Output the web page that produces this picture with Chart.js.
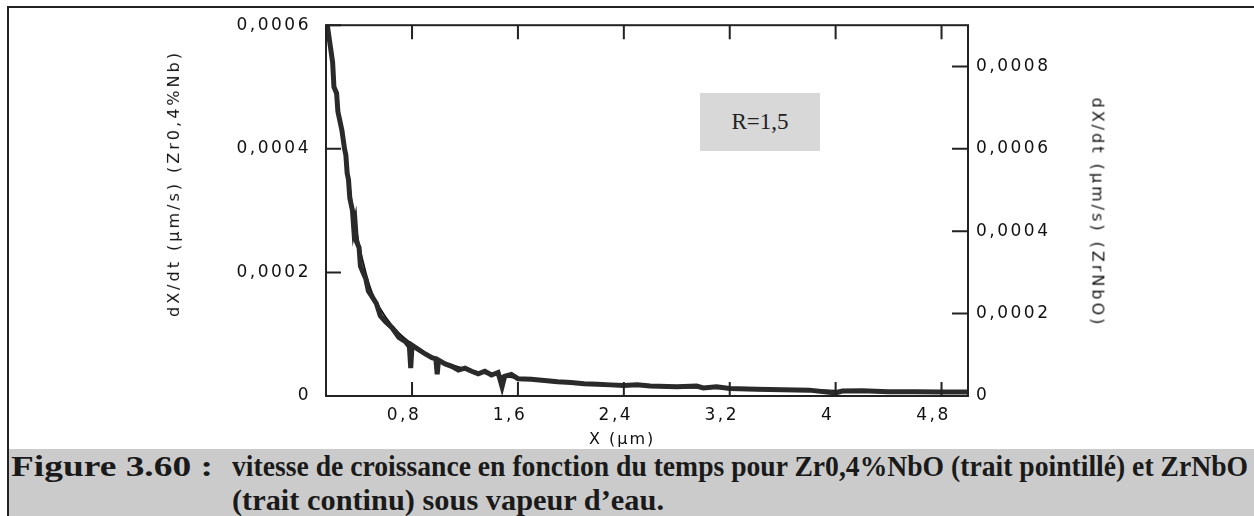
<!DOCTYPE html>
<html>
<head>
<meta charset="utf-8">
<script src="https://cdn.jsdelivr.net/npm/chart.js@4.4.1/dist/chart.umd.min.js"></script>
<style>
  body { margin: 0; background: #fff; width: 1254px; height: 516px; overflow: hidden; position: relative; }
  #frame { position: absolute; left: 7px; top: 6px; width: 1260px; height: 520px; border: 2px solid #222; box-sizing: border-box; }
  #cv { position: absolute; left: 0; top: 0; }
  .ttl { position: absolute; font-family: "DejaVu Sans", sans-serif; font-size: 16px; letter-spacing: 3px; color: #111; white-space: nowrap; transform-origin: center center; }
  #rbox { position: absolute; left: 700px; top: 93px; width: 120px; height: 58px; background: #d8d8d8; font-family: "Liberation Serif", serif; font-size: 23px; color: #222; text-align: center; line-height: 58px; }
  #cap { position: absolute; left: 9px; top: 449px; width: 1245px; height: 67px; background: #cbcbcb; }
  .cl { position: absolute; font-family: "Liberation Serif", serif; font-weight: bold; font-size: 30px; line-height: 32px; color: #1a1a1a; white-space: nowrap; transform-origin: left center; }
</style>
</head>
<body>
<div id="frame"></div>
<canvas id="cv" width="1254" height="450"></canvas>
<div class="ttl" id="tl">dX/dt (µm/s) (Zr0,4%Nb)</div>
<div class="ttl" id="tr">dX/dt (µm/s) (ZrNbO)</div>
<div class="ttl" id="tx" style="letter-spacing:2px">X (µm)</div>
<div id="rbox">R=1,5</div>
<div id="cap">
  <div class="cl" id="c0" style="left:2px; top:1px;">Figure 3.60 :</div>
  <div class="cl" id="c1" style="left:223px; top:1px;">vitesse de croissance en fonction du temps pour Zr0,4%NbO (trait pointillé) et ZrNbO</div>
  <div class="cl" id="c2" style="left:223px; top:35px;">(trait continu) sous vapeur d’eau.</div>
</div>
<script>
// Zr0,4%NbO (trait pointillé), left axis
const dotX = [0.16, 0.18, 0.20, 0.21, 0.23, 0.24, 0.26, 0.27, 0.29, 0.30, 0.31, 0.32, 0.33, 0.35, 0.36, 0.37, 0.38, 0.40, 0.41, 0.43,
  0.45, 0.47, 0.50, 0.53, 0.56, 0.60, 0.65, 0.70, 0.75, 0.78, 0.79, 0.80, 0.85, 0.90, 0.95, 0.98, 0.99, 1.00, 1.05, 1.10,
  1.15, 1.20, 1.25, 1.30, 1.35, 1.40, 1.45, 1.48, 1.50, 1.55, 1.60, 1.70, 1.80, 1.90, 2.00, 2.10, 2.20, 2.30, 2.40, 2.50,
  2.60, 2.80, 2.95, 3.00, 3.10, 3.20, 3.40, 3.60, 3.80, 3.95, 4.00, 4.05, 4.20, 4.40, 4.60, 4.80, 5.00];
const dotY = [0.00060, 0.00057, 0.00054, 0.00050, 0.00049, 0.00046, 0.00044, 0.00043, 0.00040, 0.00039, 0.00036, 0.00035, 0.00032, 0.00030, 0.00027, 0.00028, 0.00025, 0.00024, 0.00021, 0.00020,
  0.00019, 0.00017, 0.00016, 0.00015, 0.00013, 0.00012, 0.00011, 0.000095, 0.000088, 0.000080, 0.000045, 0.000082, 0.000075, 0.000068, 0.000062, 0.000060, 0.000035, 0.000058, 0.000052, 0.000048,
  0.000042, 0.000045, 0.000040, 0.000036, 0.000040, 0.000034, 0.000038, 0.000015, 0.000032, 0.000035, 0.000028, 0.000027, 0.000025, 0.000023, 0.000022, 0.000020, 0.000019, 0.000018, 0.000017, 0.000018,
  0.000016, 0.000015, 0.000016, 0.000013, 0.000015, 0.000012, 0.000011, 0.000010, 0.0000095, 0.000006, 0.000005, 0.000008, 0.0000085, 0.000007, 0.000007, 0.0000065, 0.0000065];

// ZrNbO (trait continu), right axis
const solX = [0.16, 0.20, 0.25, 0.30, 0.35, 0.40, 0.45, 0.50, 0.60, 0.70, 0.80, 0.90, 1.00, 1.20, 1.40, 1.60, 1.80, 2.00, 2.40, 2.80, 3.20, 3.60, 4.00, 4.40, 4.80, 5.00];
const solY = [0.00090, 0.000795, 0.000675, 0.000585, 0.000458, 0.000368, 0.00030, 0.000249, 0.000192, 0.000153, 0.000126, 0.000105, 0.000087, 0.000066, 0.0000525, 0.0000435, 0.000036, 0.0000315, 0.0000255, 0.000021, 0.000018, 0.000015, 0.0000132, 0.0000117, 0.0000105, 0.0000099];

const xTicks = [0.8, 1.6, 2.4, 3.2, 4, 4.8];
const yTicks = [0, 0.0002, 0.0004, 0.0006];
const y2Ticks = [0, 0.0002, 0.0004, 0.0006, 0.0008];

const fmt = (v) => v === 0 ? '0' : String(+v.toFixed(4)).replace('.', ',');
const tickFont = { family: 'DejaVu Sans', size: 17 };

const frameTicks = {
  id: 'frameTicks',
  beforeDraw(chart) { chart.ctx.letterSpacing = '2.5px'; },
  afterDraw(chart) {
    const ctx = chart.ctx;
    const { left, right, top, bottom } = chart.chartArea;
    ctx.save();
    ctx.letterSpacing = '0px';
    ctx.strokeStyle = '#222';
    ctx.lineWidth = 2;
    ctx.strokeRect(left, top, right - left, bottom - top);
    ctx.beginPath();
    chart.scales.x.ticks.forEach((t) => {
      const px = chart.scales.x.getPixelForValue(t.value);
      ctx.moveTo(px, bottom); ctx.lineTo(px, bottom - 14);
      ctx.moveTo(px, top); ctx.lineTo(px, top + 14);
    });
    chart.scales.y.ticks.forEach((t) => {
      const py = chart.scales.y.getPixelForValue(t.value);
      ctx.moveTo(left, py); ctx.lineTo(left + 15, py);
    });
    chart.scales.y2.ticks.forEach((t) => {
      const py = chart.scales.y2.getPixelForValue(t.value);
      ctx.moveTo(right, py); ctx.lineTo(right - 16, py);
    });
    ctx.stroke();
    ctx.restore();
  }
};

const noGrid = { display: false, drawTicks: false, tickLength: 0 };

new Chart(document.getElementById('cv'), {
  type: 'line',
  data: {
    datasets: [
      {
        label: 'Zr0,4%NbO',
        data: dotX.map((x, i) => ({ x, y: dotY[i] })),
        yAxisID: 'y',
        borderColor: '#2a2a2a',
        borderWidth: 5,
        pointRadius: 0,
        tension: 0
      },
      {
        label: 'ZrNbO',
        data: solX.map((x, i) => ({ x, y: solY[i] })),
        yAxisID: 'y2',
        borderColor: '#111',
        borderWidth: 1.8,
        pointRadius: 0,
        cubicInterpolationMode: 'monotone'
      }
    ]
  },
  options: {
    responsive: false,
    animation: false,
    devicePixelRatio: 1,
    layout: { padding: { top: 19, left: 0, right: 0, bottom: 0 } },
    plugins: { legend: { display: false }, tooltip: { enabled: false } },
    scales: {
      x: {
        type: 'linear', min: 0.15, max: 5.0,
        afterBuildTicks: (s) => { s.ticks = xTicks.map((v) => ({ value: v })); },
        afterFit: (s) => { s.height = 54; },
        grid: noGrid,
        border: { display: false },
        ticks: { font: tickFont, color: '#111', padding: 9, labelOffset: -8, maxRotation: 0, callback: fmt }
      },
      y: {
        type: 'linear', position: 'left', min: 0, max: 0.0006,
        afterBuildTicks: (s) => { s.ticks = yTicks.map((v) => ({ value: v })); },
        afterFit: (s) => { s.width = 326; },
        grid: noGrid,
        border: { display: false },
        ticks: { font: tickFont, color: '#111', padding: 15, callback: fmt }
      },
      y2: {
        type: 'linear', position: 'right', min: 0, max: 0.0009,
        afterBuildTicks: (s) => { s.ticks = y2Ticks.map((v) => ({ value: v })); },
        afterFit: (s) => { s.width = 286; },
        grid: noGrid,
        border: { display: false },
        ticks: { font: tickFont, color: '#111', padding: 8, callback: fmt }
      }
    }
  },
  plugins: [frameTicks]
});

// place rotated titles by their centres
function place(id, cx, cy, rot) {
  const el = document.getElementById(id);
  const w = el.offsetWidth, h = el.offsetHeight;
  el.style.left = (cx - w / 2) + 'px';
  el.style.top = (cy - h / 2) + 'px';
  if (rot) el.style.transform = 'rotate(' + rot + 'deg)';
}
place('tl', 173, 183, -90);
place('tr', 1098, 212, 90);
place('tx', 622, 438, 0);

// squeeze caption lines to the widths of the condensed original
function fit(id, w) {
  const el = document.getElementById(id);
  el.style.transform = 'scaleX(' + (w / el.offsetWidth) + ')';
}
fit('c0', 202);
fit('c1', 1016);
fit('c2', 432);
</script>
</body>
</html>
